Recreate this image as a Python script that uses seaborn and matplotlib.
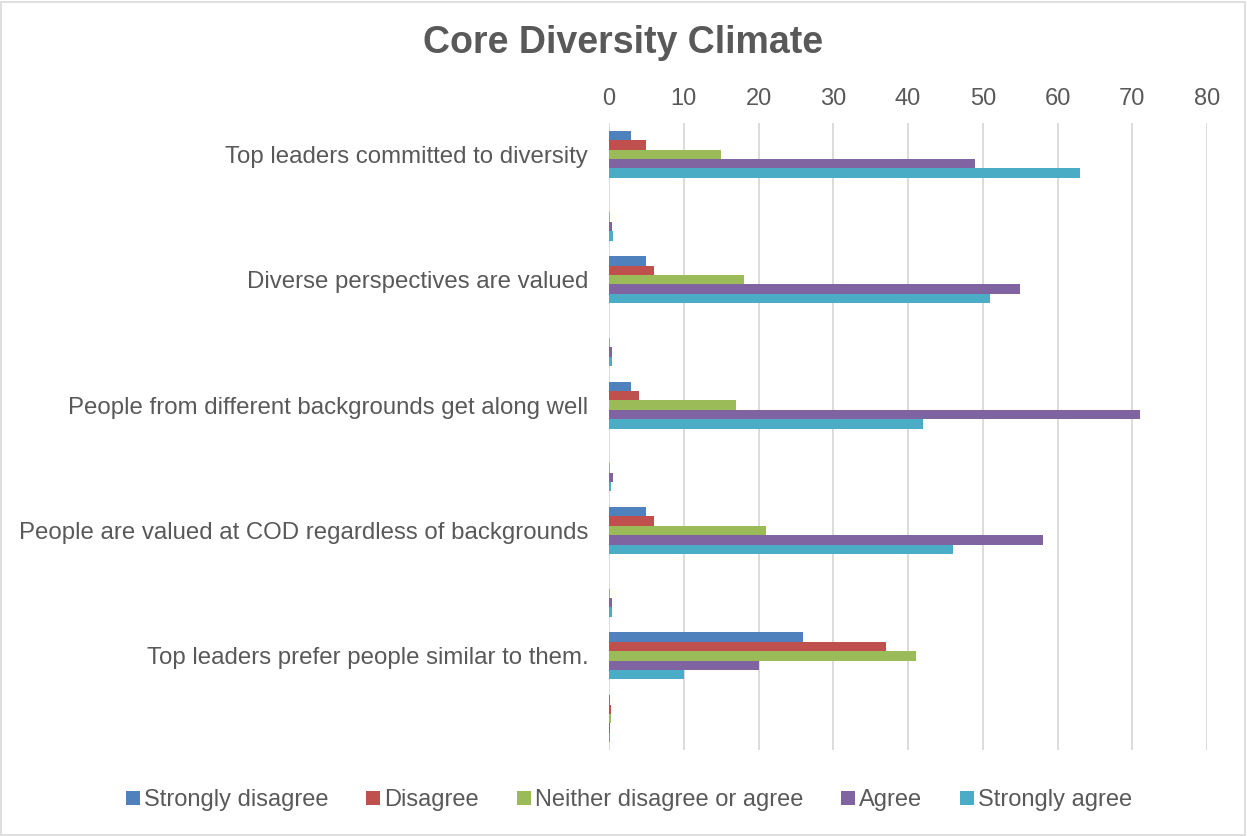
import matplotlib
matplotlib.use("Agg")
import matplotlib.pyplot as plt
from matplotlib.patches import Rectangle
from matplotlib.lines import Line2D
import seaborn as sns
import pandas as pd

statements = [
    "Top leaders committed to diversity",
    "Diverse perspectives are valued",
    "People from different backgrounds get along well",
    "People are valued at COD regardless of backgrounds",
    "Top leaders prefer people similar to them.",
]
series = ["Strongly disagree", "Disagree", "Neither disagree or agree",
          "Agree", "Strongly agree"]
colors = ["#4F81BD", "#C0504D", "#9BBB59", "#8064A2", "#4BACC6"]

# response counts per statement (one list per answer)
strongly_disagree = [3, 5, 3, 5, 26]
disagree = [5, 6, 4, 6, 37]
neither = [15, 18, 17, 21, 41]
agree = [49, 55, 71, 58, 20]
strongly_agree = [63, 51, 42, 46, 10]

# response shares per statement, plotted as the unlabeled row below each statement
share_strongly_disagree = [0.02, 0.04, 0.02, 0.04, 0.19]
share_disagree = [0.04, 0.04, 0.03, 0.04, 0.28]
share_neither = [0.11, 0.13, 0.12, 0.15, 0.31]
share_agree = [0.36, 0.41, 0.52, 0.43, 0.15]
share_strongly_agree = [0.47, 0.38, 0.31, 0.34, 0.07]

xticks = [0, 10, 20, 30, 40, 50, 60, 70, 80]

counts = [strongly_disagree, disagree, neither, agree, strongly_agree]
shares = [share_strongly_disagree, share_disagree, share_neither,
          share_agree, share_strongly_agree]

rows = []
row_ids = []
tick_labels = []
for i, stmt in enumerate(statements):
    for kind, table in (("count", counts), ("share", shares)):
        rid = f"{stmt} [{kind}]"
        row_ids.append(rid)
        tick_labels.append(stmt if kind == "count" else "")
        for s, vals in zip(series, table):
            rows.append({"row": rid, "response": s, "value": vals[i]})
df = pd.DataFrame(rows)

sns.set_theme(style="white")
plt.rcParams["font.family"] = ["Liberation Sans", "DejaVu Sans"]
text_color = "#595959"

fig = plt.figure(figsize=(12.47, 8.36), dpi=100)
ax = fig.add_axes([0.4884, 0.1029, 0.4796, 0.75])

sns.barplot(data=df, y="row", x="value", hue="response", order=row_ids,
            hue_order=series, palette=colors, orient="h", width=0.75,
            saturation=1, ax=ax, legend=False, linewidth=0)

ax.set_xlim(0, 80)
ax.set_ylim(len(row_ids) - 0.5, -0.5)
ax.set_xticks(xticks)
ax.xaxis.tick_top()
ax.set_yticks(range(len(row_ids)))
ax.set_yticklabels(tick_labels)
ax.tick_params(axis="x", length=0, labelsize=17, colors=text_color, pad=9)
ax.tick_params(axis="y", length=0, labelsize=17.3, colors=text_color, pad=15)
ax.set_xlabel("")
ax.set_ylabel("")
ax.grid(axis="x", color="#d9d9d9", linewidth=1.3)
ax.set_axisbelow(True)
for sp in ax.spines.values():
    sp.set_visible(False)

fig.text(0.5, 1 - 43 / 836, "Core Diversity Climate", ha="center", va="center",
         fontsize=27, fontweight="bold", color=text_color)

handles = [Line2D([], [], marker="s", linestyle="", markersize=9.5,
                  markerfacecolor=c, markeredgewidth=0) for c in colors]
fig.legend(handles, series, loc="center", bbox_to_anchor=(0.504, 1 - 800 / 836),
           ncol=5, frameon=False, fontsize=17, labelcolor=text_color,
           handletextpad=0.1, columnspacing=1.57, handlelength=0.7)

fig.add_artist(Rectangle((0.001, 0.001), 0.997, 0.997, transform=fig.transFigure,
                         fill=False, edgecolor="#d9d9d9", linewidth=1.2))

fig.savefig("out.png", dpi=100, facecolor="white")
